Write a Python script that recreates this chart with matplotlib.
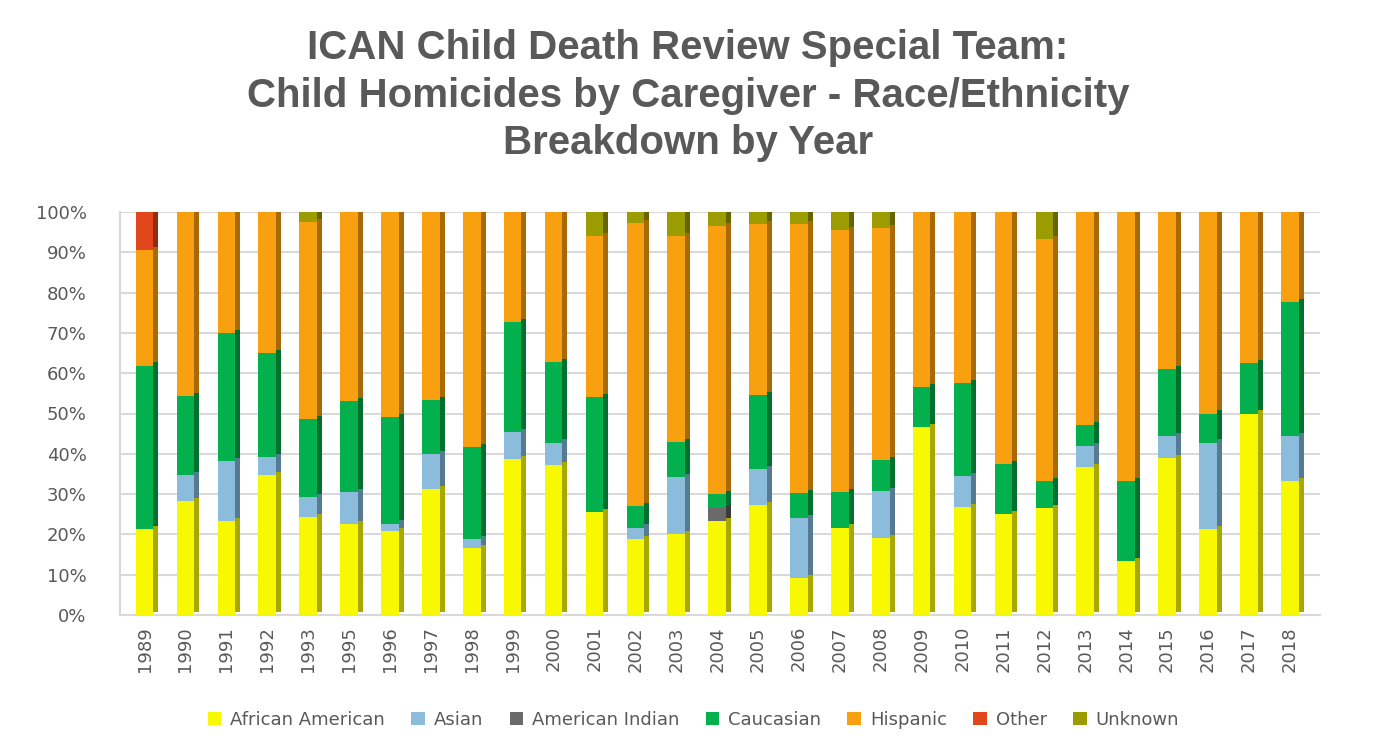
import matplotlib
matplotlib.use("Agg")
import matplotlib.pyplot as plt
import matplotlib.patheffects as pe
from matplotlib.patches import Patch
from matplotlib.ticker import PercentFormatter
import numpy as np

years = ["1989", "1990", "1991", "1992", "1993", "1995", "1996", "1997", "1998",
         "1999", "2000", "2001", "2002", "2003", "2004", "2005", "2006", "2007",
         "2008", "2009", "2010", "2011", "2012", "2013", "2014", "2015", "2016",
         "2017", "2018"]

# percent of each year's total
african_american = [21.4, 28.3, 23.3, 34.7, 24.4, 22.5, 20.8, 31.2, 16.7, 38.6,
                    37.1, 25.6, 18.9, 20.0, 23.3, 27.3, 9.1, 21.7, 19.2, 46.6,
                    26.9, 25.0, 26.6, 36.8, 13.4, 38.9, 21.3, 50.0, 33.3]
asian = [0, 6.4, 15.0, 4.4, 4.9, 8.0, 1.9, 8.8, 2.1, 6.7,
         5.7, 0, 2.8, 14.2, 0, 9.0, 15.0, 0, 11.5, 0,
         7.6, 0, 0, 5.2, 0, 5.5, 21.5, 0, 11.1]
american_indian = [0, 0, 0, 0, 0, 0, 0, 0, 0, 0,
                   0, 0, 0, 0, 3.3, 0, 0, 0, 0, 0,
                   0, 0, 0, 0, 0, 0, 0, 0, 0]
caucasian = [40.5, 19.6, 31.6, 26.0, 19.3, 22.5, 26.4, 13.3, 22.8, 27.4,
             20.0, 28.6, 5.4, 8.7, 3.4, 18.2, 6.2, 8.7, 7.8, 9.9,
             23.1, 12.5, 6.7, 5.2, 19.9, 16.6, 7.2, 12.5, 33.3]
hispanic = [28.6, 45.7, 30.1, 34.9, 48.8, 47.0, 50.9, 46.7, 58.4, 27.3,
            37.2, 39.9, 70.1, 51.2, 66.6, 42.4, 66.6, 65.1, 57.5, 43.5,
            42.4, 62.5, 60.0, 52.8, 66.7, 39.0, 50.0, 37.5, 22.3]
other = [9.5, 0, 0, 0, 0, 0, 0, 0, 0, 0,
         0, 0, 0, 0, 0, 0, 0, 0, 0, 0,
         0, 0, 0, 0, 0, 0, 0, 0, 0]
unknown = [0, 0, 0, 0, 2.6, 0, 0, 0, 0, 0,
           0, 5.9, 2.8, 5.9, 3.4, 3.1, 3.1, 4.5, 4.0, 0,
           0, 0, 6.7, 0, 0, 0, 0, 0, 0]

series = [
    ("African American", african_american, "#F8F800", "#A8A800"),
    ("Asian", asian, "#8CBCDC", "#557A92"),
    ("American Indian", american_indian, "#6A6A6A", "#3C3C3C"),
    ("Caucasian", caucasian, "#03B04E", "#01702F"),
    ("Hispanic", hispanic, "#F9A010", "#A86A06"),
    ("Other", other, "#E2461C", "#962A0E"),
    ("Unknown", unknown, "#9C9C00", "#646400"),
]

GREY = "#595959"


def main():
    fig = plt.figure(figsize=(13.76, 7.5), dpi=100)
    ax = fig.add_axes([120 / 1376, 1 - 615 / 750, 1200 / 1376, 403 / 750])

    x = np.arange(len(years))
    total = np.array(african_american) + np.array(asian) + np.array(american_indian) \
        + np.array(caucasian) + np.array(hispanic) + np.array(other) + np.array(unknown)
    bottom = np.zeros(len(years))
    handles = []
    for name, vals, col, side in series:
        frac = np.array(vals) / total
        ax.bar(x, frac, 0.43, bottom=bottom, color=col, zorder=3,
               path_effects=[pe.SimplePatchShadow(offset=(3.6, 2.2), shadow_rgbFace=side,
                                                  alpha=1.0), pe.Normal()])
        bottom += frac
        handles.append(Patch(facecolor=col, label=name))

    ax.set_xlim(-0.6, 28.74)
    ax.set_ylim(0, 1.0)
    ax.set_yticks(np.linspace(0, 1, 11))
    ax.yaxis.set_major_formatter(PercentFormatter(1.0, decimals=0))
    ax.set_xticks(x)
    ax.set_xticklabels(years, rotation=90)
    ax.tick_params(axis="both", length=0, labelsize=13, colors=GREY)
    ax.tick_params(axis="x", pad=8)
    ax.tick_params(axis="y", pad=24)
    ax.grid(axis="y", color="#D9D9D9", linewidth=1.5, zorder=0)
    for s in ["top", "right"]:
        ax.spines[s].set_visible(False)
    for s in ["left", "bottom"]:
        ax.spines[s].set_color("#D9D9D9")
        ax.spines[s].set_linewidth(1.5)

    fig.text(0.5, 1 - 29 / 750,
             "ICAN Child Death Review Special Team:\n"
             "Child Homicides by Caregiver - Race/Ethnicity\n"
             "Breakdown by Year",
             ha="center", va="top", fontsize=29, fontweight="bold", color=GREY,
             family="Liberation Sans", linespacing=1.32)

    leg = fig.legend(handles=handles, loc="center", bbox_to_anchor=(0.504, 1 - 720 / 750),
                     ncol=7, frameon=False, fontsize=13, handlelength=0.75,
                     handleheight=0.75, handletextpad=0.5, columnspacing=1.45)
    for t in leg.get_texts():
        t.set_color(GREY)

    fig.savefig("out.png", dpi=100, facecolor="white")


if __name__ == "__main__":
    main()
